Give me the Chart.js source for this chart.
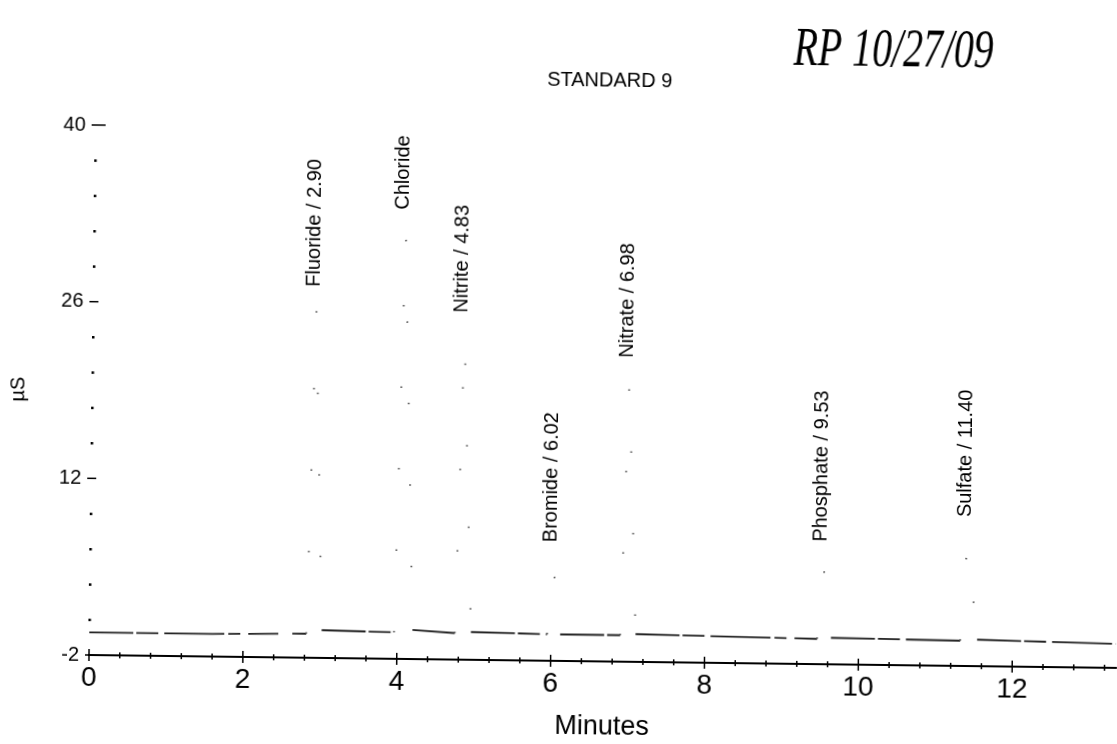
<!DOCTYPE html>
<html>
<head>
<meta charset="utf-8">
<script src="https://cdn.jsdelivr.net/npm/chart.js@4.4.0/dist/chart.umd.min.js"></script>
<style>
    html, body { margin: 0; padding: 0; background: #fff; overflow: hidden; }
    /* the scan is slightly tilted */
    #hoja { width: 1117px; height: 744px; transform: rotate(0.72deg); transform-origin: 89px 655px; }
</style>
</head>
<body>
<div id="hoja"><canvas id="grafico-cromatograma"></canvas></div>
<script>
// trace (minutes / µS)
var minutos = [0, 1.6, 2.82, 2.90, 3.02, 3.96, 4.05, 4.20, 4.75, 4.83, 4.96, 5.95, 6.02, 6.12, 6.90, 6.98, 7.10, 9.46, 9.53, 9.64, 11.32, 11.40, 11.54, 13.35];
var microS = [-0.2, -0.2, -0.1, 25.6, 0.2, 0.1, 31.8, 0.3, 0.1, 23.7, 0.2, 0.1, 5.6, 0.1, 0.1, 20.3, 0.2, 0, 5.9, 0.1, 0, 8.0, 0.1, -0.1];

// peaks
var picoTiempos = [2.90, 4.05, 4.83, 6.02, 6.98, 9.53, 11.40];
var picoAlturas = [25.6, 31.8, 23.7, 5.6, 20.3, 5.9, 8.0];
var picoEtiquetas = ['Fluoride / 2.90', 'Chloride', 'Nitrite / 4.83', 'Bromide / 6.02', 'Nitrate / 6.98', 'Phosphate / 9.53', 'Sulfate / 11.40'];

// tick labels
var etiquetasX = [0, 2, 4, 6, 8, 10, 12];
var etiquetasY = [-2, 12, 26, 40];

var fuente = '"Liberation Sans", Arial, sans-serif';
Chart.defaults.font.family = fuente;
Chart.defaults.color = '#000';

function esPico(c) {
    return Math.max(c.p0.parsed.y, c.p1.parsed.y) > 2;
}

function enLista(lista, v) {
    for (var i = 0; i < lista.length; i++) {
        if (Math.abs(lista[i] - v) < 0.01) return true;
    }
    return false;
}

var marcasEjes = {
    id: 'marcasEjes',
    afterDraw: function (chart) {
        var ctx = chart.ctx;
        var x = chart.scales.x;
        var y = chart.scales.y;
        var area = chart.chartArea;
        ctx.save();
        ctx.strokeStyle = '#000';
        ctx.fillStyle = '#000';
        ctx.lineWidth = 1.5;

        // x ticks cross the axis line
        x.ticks.forEach(function (t) {
            var px = x.getPixelForValue(t.value);
            var h = enLista(etiquetasX, t.value) ? 6 : 3;
            ctx.beginPath();
            ctx.moveTo(px, area.bottom - h);
            ctx.lineTo(px, area.bottom + h);
            ctx.stroke();
        });

        // y axis: dashes on the labelled values, dots elsewhere
        y.ticks.forEach(function (t) {
            var py = y.getPixelForValue(t.value);
            if (enLista(etiquetasY, t.value)) {
                ctx.beginPath();
                ctx.moveTo(area.left - 4, py);
                ctx.lineTo(area.left + (t.value === 40 ? 10 : 5), py);
                ctx.stroke();
            } else {
                ctx.fillRect(area.left - 1, py - 1, 2.5, 2.5);
            }
        });

        // peak names, written upward above each peak
        ctx.font = '20px ' + fuente;
        ctx.textAlign = 'left';
        ctx.textBaseline = 'middle';
        for (var i = 0; i < picoTiempos.length; i++) {
            var px = x.getPixelForValue(picoTiempos[i]) - 3;
            var py = y.getPixelForValue(picoAlturas[i] + 1.8);
            ctx.save();
            ctx.translate(px, py);
            ctx.rotate(-Math.PI / 2);
            ctx.fillText(picoEtiquetas[i], 0, 0);
            ctx.restore();
        }

        // handwritten initials and date
        ctx.font = 'italic 54px "Liberation Serif", serif';
        ctx.textBaseline = 'alphabetic';
        ctx.fillText('RP 10/27/09', 786, 56, 200);
        ctx.restore();
    }
};

var ctx = document.getElementById('grafico-cromatograma');
var myChart = new Chart(ctx, {
    type: 'line',
    data: {
        datasets: [{
            label: 'STANDARD 9',
            data: minutos.map(function (m, i) { return { x: m, y: microS[i] }; }),
            borderColor: '#222',
            borderWidth: 1.8,
            pointRadius: 0,
            tension: 0,
            segment: {
                borderDash: function (c) { return esPico(c) ? [1.5, 80] : [44, 3, 22, 6, 60, 4, 12, 8, 30, 14]; },
                borderColor: function (c) { return esPico(c) ? '#555' : '#222'; }
            }
        }]
    },
    options: {
        responsive: true,
        maintainAspectRatio: false,
        animation: false,
        layout: { padding: 0 },
        plugins: {
            legend: { display: false },
            tooltip: { enabled: false },
            title: {
                display: true,
                text: 'STANDARD 9',
                fullSize: false,
                color: '#000',
                font: { size: 20, weight: 'normal' },
                padding: { top: 62, bottom: 39 }
            }
        },
        scales: {
            x: {
                type: 'linear',
                min: 0,
                max: 13.35,
                afterFit: function (s) { s.height = 89; },
                grid: { display: false, drawTicks: false },
                border: { display: true, color: '#000', width: 2 },
                ticks: {
                    stepSize: 0.4,
                    includeBounds: false,
                    autoSkip: false,
                    maxRotation: 0,
                    padding: 6,
                    font: { size: 28 },
                    callback: function (v) { return enLista(etiquetasX, v) ? String(Math.round(v)) : ''; }
                },
                title: {
                    display: true,
                    text: 'Minutes',
                    font: { size: 27 },
                    padding: { top: 0, bottom: 7 }
                }
            },
            y: {
                min: -2,
                max: 40,
                afterFit: function (s) { s.width = 89; },
                grid: { display: false, drawTicks: false },
                border: { display: false },
                ticks: {
                    stepSize: 2.8,
                    autoSkip: false,
                    padding: 10,
                    font: { size: 20 },
                    callback: function (v) { return enLista(etiquetasY, v) ? String(Math.round(v)) : ''; }
                },
                title: {
                    display: true,
                    text: 'µS',
                    font: { size: 20 },
                    padding: { top: 3, bottom: 0 }
                }
            }
        }
    },
    plugins: [marcasEjes]
});
</script>
</body>
</html>
